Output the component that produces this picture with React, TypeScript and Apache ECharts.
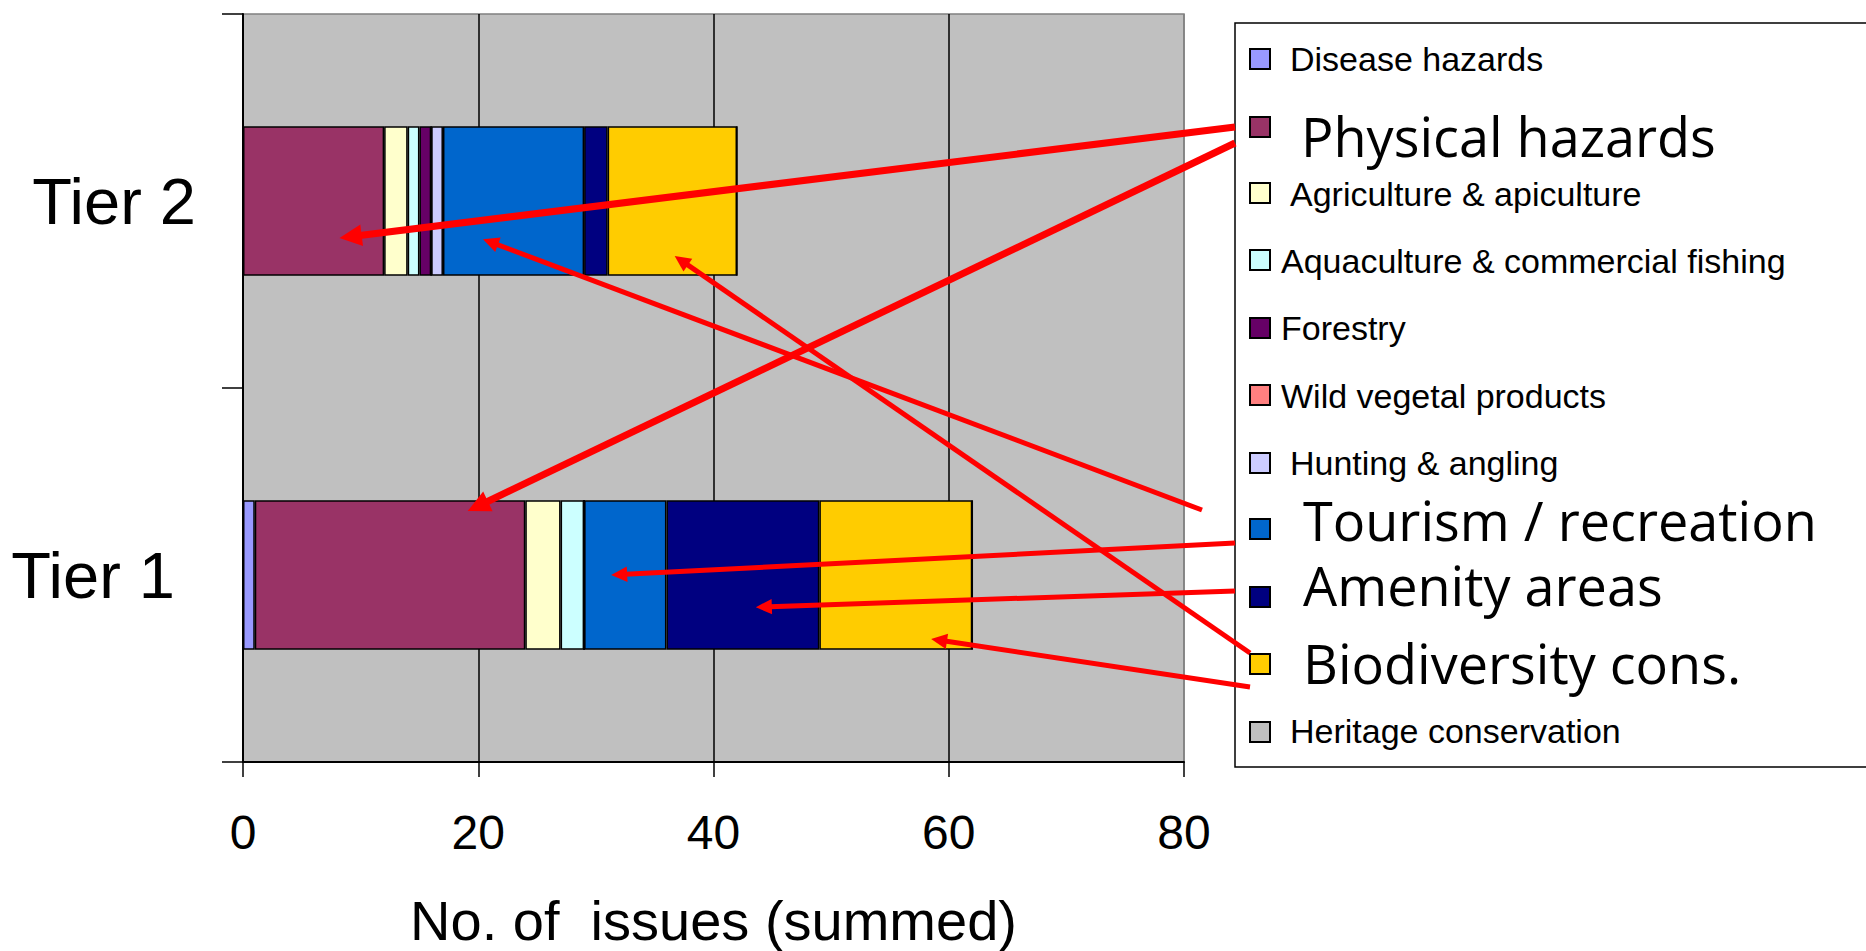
import React, { useEffect, useRef } from 'react';
import * as echarts from 'echarts';

// ---------- data ----------
const CATEGORIES = ['Tier 1', 'Tier 2'];
const SERIES_NAMES = [
  'Disease hazards',
  'Physical hazards',
  'Agriculture & apiculture',
  'Aquaculture & commercial fishing',
  'Forestry',
  'Wild vegetal products',
  'Hunting & angling',
  'Tourism / recreation',
  'Amenity areas',
  'Biodiversity cons.',
  'Heritage conservation',
];
const TIER1_VALUES = [1, 23, 3, 2, 0, 0, 0, 7, 13, 13, 0];
const TIER2_VALUES = [0, 12, 2, 1, 1, 0, 1, 12, 2, 11, 0];
const X_MIN = 0;
const X_MAX = 80;
const X_INTERVAL = 20;
const X_AXIS_NAME = 'No. of  issues (summed)';

// annotation arrows: from a legend entry to a point on a bar
const ARROW_FROM = ['Physical hazards', 'Physical hazards', 'Tourism / recreation', 'Tourism / recreation', 'Amenity areas', 'Biodiversity cons.', 'Biodiversity cons.'];
const ARROW_TO_CATEGORY = ['Tier 2', 'Tier 1', 'Tier 2', 'Tier 1', 'Tier 1', 'Tier 2', 'Tier 1'];
const ARROW_TO_VALUE = [8.2, 19.1, 20.4, 31.3, 43.6, 36.7, 58.5];

// ---------- styles ----------
const COLORS = ['#9999FF', '#993366', '#FFFFCC', '#CCFFFF', '#660066', '#FF8080', '#CCCCFF', '#0066CC', '#000080', '#FFCC00', '#C0C0C0'];
const ARIAL = '"Liberation Sans", Arial, Helvetica, sans-serif';
const HAND = '"Comic Sans MS", "Open Sans", sans-serif';
const LEGEND_BIG = [false, true, false, false, false, false, false, true, true, true, false];
const LEGEND_MARKER_Y = [59, 127, 193, 260, 328, 395, 463, 529, 597, 664, 732];
const LEGEND_TEXT_Y = [59, 136, 194, 261, 328, 396, 463, 520, 585, 663, 731];
const LEGEND_TEXT_X = [1290, 1301, 1290, 1281, 1281, 1281, 1290, 1303, 1303, 1303, 1290];
const LEGEND_MARKER_X = 1250;
const ARROW_TAIL_DX = [-15, -15, -48, -15, -15, 0, 0];
const ARROW_TAIL_DY = [0, 16, -19, 14, -6, -11, 23];
const ARROW_TIP_BAND_OFFSET = [0.099, -0.171, 0.102, 0.0, 0.086, 0.147, 0.171];
const ARROW_WIDTH = [7, 7, 5, 5, 5, 5, 5];

export default function App() {
  const ref = useRef<HTMLDivElement>(null);

  useEffect(() => {
    if (!ref.current) return;
    document.body.style.margin = '0';
    document.body.style.overflow = 'hidden';
    const chart = echarts.init(ref.current, undefined, { renderer: 'svg' });

    const series = SERIES_NAMES.map((name, i) => ({
      name,
      type: 'bar',
      stack: 'total',
      barWidth: '40%',
      itemStyle: { color: COLORS[i], borderColor: '#000000', borderWidth: 1.5 },
      emphasis: { disabled: true },
      data: [TIER1_VALUES[i], TIER2_VALUES[i]],
    }));

    chart.setOption({
      animation: false,
      backgroundColor: '#ffffff',
      grid: {
        left: 243,
        right: 682,
        top: 14,
        bottom: 189,
        show: true,
        backgroundColor: '#C0C0C0',
        borderColor: '#808080',
        borderWidth: 1.5,
        containLabel: false,
        outerBoundsMode: 'none',
      },
      xAxis: {
        type: 'value',
        min: X_MIN,
        max: X_MAX,
        interval: X_INTERVAL,
        name: X_AXIS_NAME,
        nameLocation: 'middle',
        nameGap: 130,
        nameTextStyle: { fontSize: 56, color: '#000', fontFamily: ARIAL },
        axisLine: { show: true, lineStyle: { color: '#000', width: 2 } },
        axisTick: { show: true, length: 15, lineStyle: { color: '#000', width: 1.5 } },
        axisLabel: { fontSize: 48, color: '#000', fontFamily: ARIAL, margin: 46 },
        splitLine: {
          show: true,
          lineStyle: { color: ['#000000', '#000000', '#000000', '#000000', '#808080'], width: 1.5 },
        },
      },
      yAxis: {
        type: 'category',
        data: CATEGORIES,
        axisLine: { show: true, lineStyle: { color: '#000', width: 2 } },
        axisTick: { show: true, length: 21, alignWithLabel: false, lineStyle: { color: '#000', width: 1.5 } },
        axisLabel: {
          margin: 47,
          formatter: (v: string) => (v === 'Tier 1' ? `{b|${v}}` : `{a|${v}}`),
          rich: {
            a: { fontSize: 65, color: '#000', fontFamily: ARIAL },
            b: { fontSize: 65, color: '#000', fontFamily: ARIAL, padding: [0, 21, 0, 0] },
          },
        },
        splitLine: { show: false },
      },
      legend: { show: false },
      tooltip: { show: false },
      series,
    });

    // custom legend + arrows
    const elements: any[] = [];
    elements.push({
      type: 'rect',
      z: 100,
      shape: { x: 1235, y: 23, width: 700, height: 744 },
      style: { fill: '#ffffff', stroke: '#000000', lineWidth: 1.5 },
    });
    SERIES_NAMES.forEach((name, i) => {
      elements.push({
        type: 'rect',
        z: 101,
        shape: { x: LEGEND_MARKER_X, y: LEGEND_MARKER_Y[i] - 10, width: 20, height: 20 },
        style: { fill: COLORS[i], stroke: '#000000', lineWidth: 2 },
      });
      elements.push({
        type: 'text',
        z: 101,
        x: LEGEND_TEXT_X[i],
        y: LEGEND_TEXT_Y[i],
        style: {
          text: name,
          fill: '#000',
          fontSize: LEGEND_BIG[i] ? 54 : 34,
          lineHeight: LEGEND_BIG[i] ? 46 : 30,
          fontFamily: LEGEND_BIG[i] ? HAND : ARIAL,
          verticalAlign: 'middle',
          align: 'left',
        },
      });
    });

    const c1 = chart.convertToPixel({ gridIndex: 0 }, [0, 'Tier 1']) as number[];
    const c2 = chart.convertToPixel({ gridIndex: 0 }, [0, 'Tier 2']) as number[];
    const band = Math.abs(c1[1] - c2[1]);
    ARROW_FROM.forEach((from, k) => {
      const li = SERIES_NAMES.indexOf(from);
      const tx = LEGEND_MARKER_X + ARROW_TAIL_DX[k];
      const ty = LEGEND_MARKER_Y[li] + ARROW_TAIL_DY[k];
      const p = chart.convertToPixel({ gridIndex: 0 }, [ARROW_TO_VALUE[k], ARROW_TO_CATEGORY[k]]) as number[];
      const px = p[0];
      const py = p[1] + ARROW_TIP_BAND_OFFSET[k] * band;
      const dx = px - tx;
      const dy = py - ty;
      const len = Math.sqrt(dx * dx + dy * dy);
      const ux = dx / len;
      const uy = dy / len;
      const nx = -uy;
      const ny = ux;
      const w = ARROW_WIDTH[k];
      const headL = w * 3.2;
      const headW = w * 1.55;
      const bx = px - ux * headL;
      const by = py - uy * headL;
      elements.push({
        type: 'line',
        z: 102,
        shape: { x1: tx, y1: ty, x2: bx + ux * 2, y2: by + uy * 2 },
        style: { stroke: '#FF0000', lineWidth: w },
      });
      elements.push({
        type: 'polygon',
        z: 102,
        shape: {
          points: [
            [px, py],
            [bx + nx * headW, by + ny * headW],
            [bx - nx * headW, by - ny * headW],
          ],
        },
        style: { fill: '#FF0000' },
      });
    });

    chart.setOption({ graphic: { elements } });

    return () => chart.dispose();
  }, []);

  return <div ref={ref} style={{ width: 1866, height: 951, background: '#fff' }} />;
}
